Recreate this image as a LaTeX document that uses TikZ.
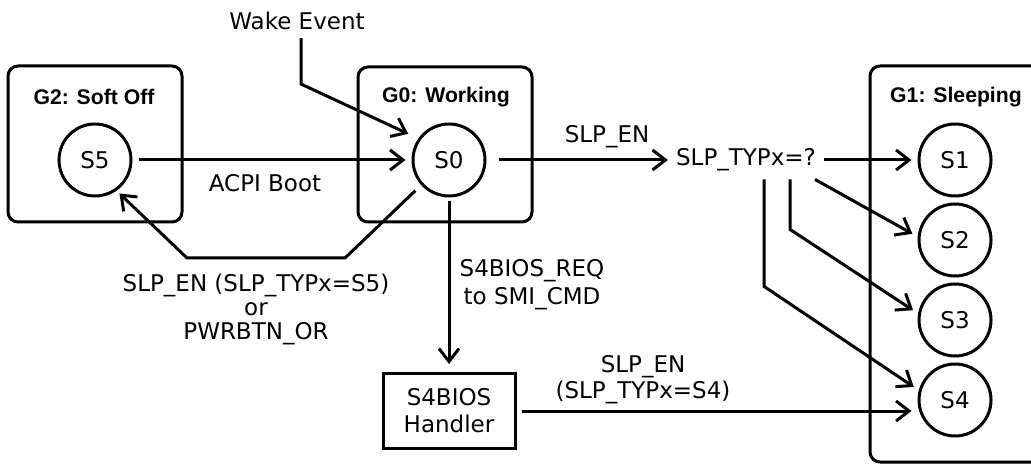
\documentclass[tikz,border=0pt]{standalone}
\usepackage{fontspec}
\setmainfont{DejaVu Sans}
\newfontfamily\grpfont{Liberation Sans}
\usetikzlibrary{arrows.meta}

\begin{document}
\begin{tikzpicture}[x=0.5pt, y=-0.5pt, line width=1.5pt,
    every node/.style={font=\fontsize{11.5}{13}\selectfont},
    state/.style={circle, draw, minimum size=36pt, inner sep=0pt},
    group/.style={draw, rounded corners=5pt},
    grouplabel/.style={font=\grpfont\bfseries\fontsize{10.6}{13}\selectfont},
    handlerbox/.style={draw, minimum width=66pt, minimum height=37.5pt, align=center,
      font=\fontsize{11.5}{13.5}\selectfont},
    arr/.style={-{Straight Barb[length=6.5pt,width=10pt]}}]
  \useasboundingbox (0,0) rectangle (1031,464);
  \clip (0,0) rectangle (1031,464);

  % power groups
  \draw[group] (8,66) rectangle (182,222);
  \draw[group] (358,67) rectangle (532,222);
  \draw[group] (870,66) rectangle (1045,462);
  \node[grouplabel] (g2) at (94,97) {G2: Soft Off};
  \node[grouplabel] (g0) at (446,97) {G0: Working};
  \node[grouplabel] (g1) at (956,97) {G1: Sleeping};

  % states
  \node[state] (s5) at (95,160) {S5};
  \node[state] (s0) at (449,160) {S0};
  \foreach \n/\y in {1/160,2/240,3/320,4/400}
    \node[state] (s\n) at (955,\y) {S\n};

  \node (wake) at (297,21) {Wake Event};
  \node (typ) at (746,160) {SLP\_TYPx=?};
  \node[handlerbox] (handler) at (449,411) {S4BIOS\\Handler};

  % transitions
  \draw[arr, shorten <=3pt, shorten >=3pt] (s5) -- (s0);
  \draw[arr, shorten <=6pt] (s0) -- (typ);
  \draw[arr, shorten >=3pt] (typ) -- (s1);
  \draw[arr, shorten >=3pt] ([xshift=34.5pt]typ.south) -- (s2.175);
  \draw[arr, shorten >=3pt] ([xshift=22pt]typ.south) -- ++(0,50) -- (s3.170);
  \draw[arr, shorten >=3pt] ([xshift=9pt]typ.south) -- ++(0,107) -- (s4.165);
  \draw[arr, shorten <=2.5pt, shorten >=3pt] (handler.east) -- (handler.east -| s4.west);
  \draw[arr, shorten <=2pt, shorten >=4pt] (s0) -- (handler);
  \draw[arr, shorten <=4pt, shorten >=2pt] (s0.222) -- (345,258) -- (187,258) -- (s5.305);
  \draw[arr, shorten >=5.5pt] ([xshift=2pt]wake.south) -- ++(0,46) -- (s0.145);

  % labels
  \node (boot) at (265,183) {ACPI Boot};
  \node[align=center, font=\fontsize{11.5}{12}\selectfont] (offlbl) at (256,309)
    {SLP\_EN (SLP\_TYPx=S5)\\or\\PWRBTN\_OR};
  \node (enlbl) at (607,137) {SLP\_EN};
  \node[align=center, font=\fontsize{11.5}{14}\selectfont] (reqlbl) at (532,285)
    {S4BIOS\_REQ\\to SMI\_CMD};
  \node[align=center] (s4lbl) at (643,380) {SLP\_EN\\(SLP\_TYPx=S4)};
\end{tikzpicture}
\end{document}
